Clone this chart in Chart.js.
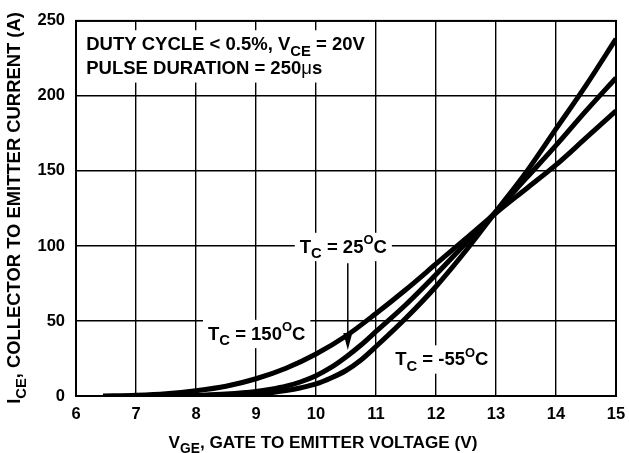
<!DOCTYPE html>
<html>
<head>
<meta charset="utf-8">
<script src="https://cdn.jsdelivr.net/npm/chart.js@4"></script>
<style>
  body { margin: 0; background: #fff; }
  #wrap { width: 629px; height: 453px; }
</style>
</head>
<body>
<div id="wrap"><canvas id="chart1"></canvas></div>
<script>
const X_TICKS = [6, 7, 8, 9, 10, 11, 12, 13, 14, 15];
const Y_TICKS = [0, 50, 100, 150, 200, 250];

const VGE_150 = [6.45, 7, 7.5, 8, 8.5, 9, 9.5, 10, 10.5, 11, 11.5, 12, 12.5, 13, 13.5, 14, 14.5, 15];
const ICE_150 = [0, 0.5, 1.5, 3.5, 6.5, 11.5, 18.5, 28, 40, 55, 71, 88, 105, 122, 138, 154, 172, 190];

const VGE_25 = [7.7, 8, 8.5, 9, 9.25, 9.5, 9.75, 10, 10.25, 10.5, 10.75, 11, 11.5, 12, 12.5, 13, 13.5, 14, 14.5, 15];
const ICE_25 = [0, 0.4, 1.3, 3, 4.5, 6.5, 9.5, 13.5, 19, 26, 34, 43, 61, 81, 102, 123, 145, 167, 190, 212];

const VGE_M55 = [8.45, 8.75, 9, 9.25, 9.5, 9.75, 10, 10.25, 10.5, 10.75, 11, 11.5, 12, 12.5, 13, 13.5, 14, 14.5, 15];
const ICE_M55 = [0, 0.5, 1.2, 2.2, 3.6, 5.5, 8, 12, 17, 24, 33, 52, 73, 97, 123, 149, 178, 207, 238];

const FONT = '"Liberation Sans", Arial, sans-serif';

const toPoints = (xs, ys) => xs.map((x, i) => ({x: x, y: ys[i]}));

// text with sub/superscripts: [text, 'sub'|'sup'|'mu'|undefined]
function fontFor(k, size) {
    if (k === 'sub') return `bold ${size * 0.8}px ${FONT}`;
    if (k === 'sup') return `bold ${size * 0.7}px ${FONT}`;
    if (k === 'mu') return `${size}px ${FONT}`;
    return `bold ${size}px ${FONT}`;
}
function richWidth(ctx, segs, size) {
    let w = 0;
    segs.forEach(([t, k]) => {
        ctx.font = fontFor(k, size);
        w += ctx.measureText(t).width;
    });
    return w;
}
function drawRich(ctx, segs, x, baseY, size) {
    ctx.textAlign = 'left';
    ctx.textBaseline = 'alphabetic';
    ctx.fillStyle = '#000';
    segs.forEach(([t, k]) => {
        ctx.font = fontFor(k, size);
        let dy = 0;
        if (k === 'sub') dy = size * 0.3;
        if (k === 'sup') dy = -size * 0.45;
        ctx.fillText(t, x, baseY + dy);
        x += ctx.measureText(t).width;
    });
}

const NOTES = [
    {x: 6.17, y: 235, size: 18.5, segs: [['DUTY CYCLE < 0.5%, V'], ['CE', 'sub'], [' = 20V']]},
    {x: 6.17, y: 219, size: 18.5, segs: [['PULSE DURATION = 250'], ['\u03bc', 'mu'], ['s']]},
    {x: 9.73, y: 100, size: 18.5, segs: [['T'], ['C', 'sub'], [' = 25'], ['O', 'sup'], ['C']]},
    {x: 8.2, y: 42, size: 18.5, segs: [['T'], ['C', 'sub'], [' = 150'], ['O', 'sup'], ['C']]},
    {x: 11.32, y: 25, size: 18.5, segs: [['T'], ['C', 'sub'], [' = -55'], ['O', 'sup'], ['C']]},
];

const notesPlugin = {
    id: 'notes',
    beforeDatasetsDraw(chart) {
        const {ctx, scales: {x, y}} = chart;
        ctx.save();
        NOTES.forEach(n => {
            const px = x.getPixelForValue(n.x);
            const py = y.getPixelForValue(n.y);
            const w = richWidth(ctx, n.segs, n.size);
            ctx.fillStyle = '#fff';
            ctx.fillRect(px - 5, py - n.size * 0.55 - 3, w + 10, n.size * 1.1 + 8);
        });
        ctx.restore();
    },
    afterDraw(chart) {
        const {ctx, chartArea: a, scales: {x, y}} = chart;
        ctx.save();
        // frame
        ctx.strokeStyle = '#000';
        ctx.lineWidth = 2;
        ctx.strokeRect(a.left, a.top, a.right - a.left, a.bottom - a.top);

        NOTES.forEach(n => {
            const px = x.getPixelForValue(n.x);
            const py = y.getPixelForValue(n.y);
            drawRich(ctx, n.segs, px, py + n.size * 0.36, n.size);
        });

        // arrow to the 25C curve
        const ax = x.getPixelForValue(10.53);
        const ay0 = y.getPixelForValue(88.4);
        const ay1 = y.getPixelForValue(30.6);
        ctx.strokeStyle = '#000';
        ctx.lineWidth = 1.5;
        ctx.beginPath();
        ctx.moveTo(ax, ay0);
        ctx.lineTo(ax, ay1 - 10);
        ctx.stroke();
        ctx.beginPath();
        ctx.moveTo(ax, ay1);
        ctx.lineTo(ax - 4.5, ay1 - 17);
        ctx.lineTo(ax + 4.5, ay1 - 17);
        ctx.closePath();
        ctx.fillStyle = '#000';
        ctx.fill();

        // axis titles
        const xt = [['V'], ['GE', 'sub'], [', GATE TO EMITTER VOLTAGE (V)']];
        const xw = richWidth(ctx, xt, 17.2);
        drawRich(ctx, xt, 323 - xw / 2, 448, 17.2);

        const yt = [['I'], ['CE', 'sub'], [', COLLECTOR TO EMITTER CURRENT (A)']];
        const yw = richWidth(ctx, yt, 18.4);
        ctx.translate(20, 208);
        ctx.rotate(-Math.PI / 2);
        drawRich(ctx, yt, -yw / 2, 0, 18.4);
        ctx.restore();
    }
};

const lineStyle = {
    borderColor: '#000',
    backgroundColor: '#000',
    borderWidth: 5,
    pointRadius: 0,
    fill: false,
    cubicInterpolationMode: 'monotone',
};

new Chart(
    document.getElementById('chart1'),
    {
        type: 'line',
        data: {
            datasets: [
                {label: 'TC = 150°C', data: toPoints(VGE_150, ICE_150), ...lineStyle},
                {label: 'TC = 25°C', data: toPoints(VGE_25, ICE_25), ...lineStyle},
                {label: 'TC = -55°C', data: toPoints(VGE_M55, ICE_M55), ...lineStyle},
            ]
        },
        options: {
            responsive: true,
            maintainAspectRatio: false,
            animation: false,
            layout: {padding: {top: 20, right: 13, left: 0, bottom: 0}},
            scales: {
                x: {
                    type: 'linear',
                    min: 6,
                    max: 15,
                    afterBuildTicks: s => { s.ticks = X_TICKS.map(v => ({value: v})); },
                    afterFit: s => { s.height = 57; s.paddingLeft = 0; s.paddingRight = 0; },
                    grid: {color: '#000', lineWidth: 1.4, drawTicks: false},
                    border: {color: '#000', width: 2},
                    ticks: {color: '#000', padding: 9, maxRotation: 0, font: {family: FONT, size: 16.5, weight: 'bold'}},
                },
                y: {
                    min: 0,
                    max: 250,
                    afterBuildTicks: s => { s.ticks = Y_TICKS.map(v => ({value: v})); },
                    afterFit: s => { s.width = 76; },
                    grid: {color: '#000', lineWidth: 1.4, drawTicks: false},
                    border: {color: '#000', width: 2},
                    ticks: {color: '#000', padding: 11, font: {family: FONT, size: 16.5, weight: 'bold'}},
                },
            },
            plugins: {
                legend: {display: false},
                tooltip: {enabled: false},
            }
        },
        plugins: [notesPlugin]
    }
);
</script>
</body>
</html>
